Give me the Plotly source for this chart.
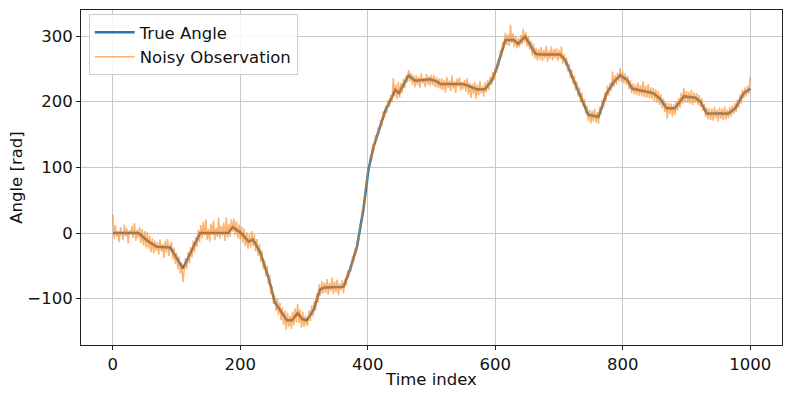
import plotly.graph_objects as go

# True angle: breakpoints
true_idx = [0, 40, 56, 69, 90, 110, 137, 181, 188, 201, 213, 220, 231, 244, 254,
            273, 281, 290, 297, 304, 315, 325, 332, 362, 372, 383, 393, 401, 409,
            419, 427, 438, 443, 449, 464, 474, 498, 508, 514, 550, 561, 571, 584,
            595, 603, 616, 629, 636, 647, 663, 670, 702, 710, 723, 736, 746, 762,
            775, 786, 796, 807, 815, 828, 848, 859, 869, 882, 896, 914, 922, 932,
            966, 977, 990, 998, 1000]
true_angle = [0, 0, -13, -21, -22, -54, 0, 0, 9, 0, -13, -10, -29, -67, -105,
              -133, -133, -122, -131, -133, -117, -86, -83, -82, -56, -21, 35, 96, 131,
              162, 185, 207, 218, 213, 240, 232, 234, 231, 227, 227, 223, 219, 219,
              233, 253, 294, 294, 288, 299, 273, 272, 272, 263, 233, 205, 180, 177,
              213, 230, 240, 233, 220, 217, 213, 204, 190, 190, 208, 206, 200, 182,
              182, 190, 213, 218, 220]

# Noisy observation, every 2nd time step
noisy_idx = list(range(0, 1001, 2))
noisy_obs = [
    # 0 - 40
    28, -9, 12, -6, 3, -14, 9, 1, -11, 13, -5, 7, -16, 4, -2, 11, -8, 15, -12, 5, -7,
    # 42 - 90
    9, -15, 6, -19, 3, -22, 1, -24,
    -4, -29, -8, -31, -12, -27,
    -14, -33, -10, -28, -17, -38, -12, -30, -9, -35, -18,
    # 92 - 136
    -14, -40, -22, -47, -30, -55, -36, -62, -45, -75,
    -60, -38, -55, -29, -46, -21, -37, -12, -30, -6, -21, 5, -14,
    # 138 - 180
    12, -8, 17, -4, 21, -10, 6, -13, 14, -3, 19, -11, 8, -6, 23, -9, 11, -4, 16, -12, 24, -7,
    # 182 - 230
    14, -6, 21, 2,
    22, -3, 18, -8, 13, -10,
    10, -15, 7, -20, 1, -24,
    -2, -23, 3, -20,
    -2, -28, -9, -35, -17,
    # 232 - 272
    -44, -27, -55, -41, -66, -50, -78,
    -64, -93, -81, -108, -95,
    -119, -100, -125, -106, -133, -113, -140, -118, -147,
    # 274 - 332
    -121, -143, -126, -146,
    -120, -141, -115, -136, -108,
    -137, -116, -144,
    -120, -143, -126, -140,
    -139, -118, -134, -110, -127,
    -104, -118, -92, -106, -78,
    -95, -73, -92, -75,
    # 334 - 362
    -91, -70, -94, -76, -88, -68, -93, -74, -90, -71, -95, -77, -87, -72, -92,
    # 364 - 408
    -70, -80, -58, -68, -50,
    -58, -36, -44, -24, -30,
    -9, -12, 14, 12, 36,
    36, 66, 68, 95,
    94, 118, 112, 136,
    # 410 - 474
    127, 149, 140, 161, 152,
    172, 163, 185, 175,
    194, 183, 203, 192, 210,
    199, 236, 208,
    226, 204, 230,
    206, 228, 213, 235, 221, 240, 229, 248,
    231, 244, 226, 241, 222,
    # 476 - 514
    240, 225, 238, 221, 243, 228, 236, 222, 242, 226, 239, 224,
    241, 225, 240, 222, 238, 221, 235, 219,
    # 516 - 584
    236, 218, 233, 214, 238, 221, 232, 216, 240, 220, 231, 213, 235, 222, 237, 217, 230, 219,
    233, 215, 236, 211, 229,
    206, 227, 212, 230, 204,
    226, 210, 231, 213, 224, 208, 229,
    # 586 - 662
    214, 233, 218, 238, 225,
    245, 233, 252, 244,
    264, 255, 279, 268, 292, 281, 305,
    286, 302, 285, 317, 289, 304,
    283, 300, 281, 297,
    283, 301, 287, 311, 290,
    306, 284, 300, 279, 293, 270, 289, 266,
    # 664 - 702
    282, 263, 280, 264, 283, 262, 279, 266, 285, 261, 278, 265, 284, 263, 280, 266, 282, 262, 279, 265,
    # 704 - 762
    284, 258, 273, 256,
    267, 246, 258, 236, 249, 227,
    240, 217, 231, 208, 222, 199, 214,
    192, 204, 182, 194, 171,
    188, 167, 186, 170, 189, 168, 184, 166,
    # 764 - 828
    192, 180, 203, 191, 214, 202,
    224, 209, 229, 216, 246, 222,
    240, 226, 244, 231, 251,
    230, 246, 228, 243, 226,
    239, 219, 233, 213,
    228, 211, 226, 210, 229, 209, 225,
    # 830 - 896
    208, 231, 207, 224, 206, 227, 205, 222, 204, 221,
    201, 219, 199, 216, 195,
    211, 190, 205, 184, 199,
    174, 198, 181, 197, 177, 196, 180,
    201, 186, 206, 191, 213, 197, 221,
    # 898 - 966
    199, 216, 198, 215, 197, 218, 195, 214, 198,
    213, 195, 210, 192,
    205, 186, 197, 177, 191,
    173, 190, 172, 189, 171, 192, 175, 188, 170, 191, 174, 189, 172, 193, 173, 188, 175,
    # 968 - 1000
    192, 177, 194, 181, 198,
    184, 203, 191, 211, 197, 218, 205,
    222, 208, 224, 212, 238,
]

x_ticks = [0, 200, 400, 600, 800, 1000]
y_ticks = [-100, 0, 100, 200, 300]

_FONT = "DejaVu Sans, Verdana, sans-serif"
_FS = 16.5

fig = go.Figure()
fig.add_trace(go.Scatter(
    x=true_idx, y=true_angle,
    mode="lines",
    line=dict(color="#1f77b4", width=2.5),
    name="True Angle",
))
fig.add_trace(go.Scatter(
    x=noisy_idx, y=noisy_obs,
    mode="lines",
    line=dict(color="#ff7f0e", width=1.5),
    opacity=0.6,
    name="Noisy Observation",
))

axis_style = dict(
    automargin=False,
    showline=True, mirror=True, linecolor="#222", linewidth=1,
    showgrid=True, gridcolor="#c8c8c8", gridwidth=1,
    zeroline=False,
    ticks="outside", ticklen=4, tickcolor="#222",
    tickfont=dict(size=_FS, color="#111"),
    title_font=dict(size=_FS, color="#111"),
)

fig.update_xaxes(
    range=[-50, 1050], tickvals=x_ticks,
    title_text="Time index", title_standoff=0,
    **axis_style,
)
fig.update_yaxes(
    range=[-170.5, 339.6], tickvals=y_ticks,
    title_text="Angle [rad]", title_standoff=0,
    **axis_style,
)

fig.update_layout(
    width=793, height=397,
    margin=dict(l=81, r=11, t=10, b=52),
    plot_bgcolor="white",
    paper_bgcolor="white",
    font=dict(family=_FONT, size=_FS, color="#111"),
    legend=dict(
        x=0.011, y=0.988, xanchor="left", yanchor="top",
        bgcolor="rgba(255,255,255,0.85)",
        bordercolor="#cccccc", borderwidth=1,
        font=dict(size=_FS),
        itemwidth=40,
        tracegroupgap=0,
    ),
    showlegend=True,
)

# page body has a default 8px margin; drop it so the figure sits at 0,0
fig.write_html(
    "out.html",
    config={"displayModeBar": False},
    post_script="document.body.style.margin='0px';",
)
